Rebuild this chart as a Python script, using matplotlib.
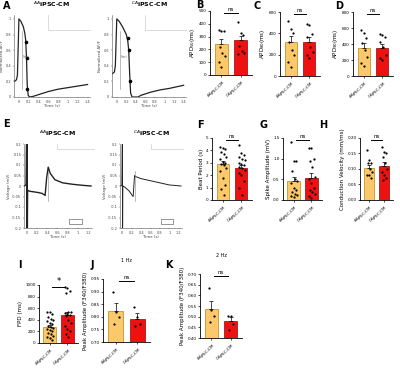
import numpy as np
import matplotlib
matplotlib.use("Agg")
import matplotlib.pyplot as plt

# ── data ──────────────────────────────────────────────────────────────────
groups = ["$^{AA}$iPSC-CM", "$^{CA}$iPSC-CM"]
orange = "#FBC96B"
red = "#EE1111"

# A: normalized calcium/AP traces
a1_t = [-0.09, -0.05, -0.03, -0.01, 0.0, 0.04, 0.09, 0.12, 0.14, 0.155, 0.17, 0.19, 0.22, 0.3, 0.4, 0.6, 0.8, 1.0, 1.2, 1.4]
a1_y = [0.20, 0.22, 0.28, 0.75, 1.0, 0.97, 0.90, 0.82, 0.72, 0.50, 0.15, 0.02, 0.0, 0.01, 0.03, 0.07, 0.10, 0.12, 0.14, 0.16]
a1_dots_t = [0.14, 0.155, 0.175]
a1_dots_y = [0.70, 0.50, 0.10]
a2_t = [-0.09, -0.05, -0.03, -0.01, 0.0, 0.05, 0.12, 0.2, 0.23, 0.25, 0.27, 0.29, 0.32, 0.45, 0.5, 0.7, 0.9, 1.1, 1.4]
a2_y = [0.30, 0.32, 0.40, 0.80, 1.0, 0.97, 0.90, 0.80, 0.72, 0.60, 0.30, 0.05, 0.0, 0.0, 0.02, 0.06, 0.09, 0.11, 0.15]
a2_dots_t = [0.225, 0.25, 0.275]
a2_dots_y = [0.75, 0.60, 0.20]

# E: field potential traces
e1_t = [-0.05, -0.01, 0.0, 0.005, 0.01, 0.015, 0.02, 0.06, 0.2, 0.3, 0.36, 0.39, 0.42, 0.46, 0.55, 0.7, 0.9, 1.1, 1.25]
e1_y = [0.0, 0.005, 0.2, -0.2, 0.2, -0.2, -0.02, -0.025, -0.03, -0.035, -0.045, 0.04, 0.09, 0.06, 0.03, 0.015, 0.008, 0.003, 0.0]
e2_t = [-0.05, -0.01, 0.0, 0.005, 0.01, 0.05, 0.15, 0.21, 0.23, 0.26, 0.28, 0.4, 0.6, 0.8, 1.0, 1.25]
e2_y = [0.0, 0.002, 0.2, -0.2, 0.0, -0.005, -0.025, -0.045, -0.05, 0.05, 0.045, 0.035, 0.025, 0.015, 0.005, 0.0]

# bar panels: means, SEMs and individual points per group
apd50_mean = [240, 270]
apd50_sem = [40, 38]
apd50_aa = [350, 345, 340, 215, 175, 150, 105, 60]
apd50_ca = [415, 325, 315, 230, 185, 175, 165]

apd80_mean = [316, 322]
apd80_sem = [55, 45]
apd80_aa = [519, 437, 400, 322, 244, 197, 134, 87]
apd80_ca = [487, 478, 394, 369, 275, 228, 197, 165]

apd90_mean = [354, 354]
apd90_sem = [60, 50]
apd90_aa = [575, 533, 470, 408, 325, 242, 158, 120]
apd90_ca = [525, 512, 483, 429, 367, 262, 221, 200]

beat_mean = [2.9, 2.6]
beat_sem = [0.27, 0.25]
beat_aa = [4.3, 4.2, 4.1, 3.9, 3.7, 3.5, 3.3, 3.1, 3.0, 2.9, 2.8, 2.6, 2.3, 1.8, 1.2, 0.9, 0.4]
beat_ca = [4.4, 3.8, 3.6, 3.5, 3.3, 3.2, 3.0, 2.9, 2.8, 2.7, 2.6, 2.4, 2.2, 2.0, 1.5, 1.0, 0.4]

spike_mean = [0.45, 0.53]
spike_sem = [0.10, 0.12]
spike_aa = [1.4, 0.95, 0.95, 0.7, 0.5, 0.45, 0.4, 0.3, 0.25, 0.2, 0.15, 0.12, 0.1, 0.08]
spike_ca = [1.25, 1.25, 1.0, 0.95, 0.8, 0.55, 0.5, 0.4, 0.3, 0.25, 0.2, 0.15, 0.1, 0.05]

cv_mean = [0.103, 0.11]
cv_sem = [0.010, 0.012]
cv_aa = [0.16, 0.13, 0.12, 0.12, 0.10, 0.09, 0.08, 0.08, 0.07]
cv_ca = [0.17, 0.155, 0.15, 0.14, 0.12, 0.10, 0.09, 0.08, 0.07, 0.065]

fpd_mean = [280, 483]
fpd_sem = [30, 60]
fpd_aa = [540, 530, 500, 450, 420, 400, 380, 350, 320, 300, 280, 260, 250, 230, 200, 180, 150, 120, 100, 80, 60]
fpd_ca = [960, 940, 900, 870, 540, 530, 520, 500, 480, 460, 400, 350, 300, 250, 200, 150, 100]

hz1_mean = [0.823, 0.79]
hz1_sem = [0.03, 0.024]
hz1_aa = [0.90, 0.82, 0.80, 0.77]
hz1_ca = [0.84, 0.80, 0.77, 0.765]

hz2_mean = [0.537, 0.479]
hz2_sem = [0.036, 0.018]
hz2_aa = [0.636, 0.53, 0.505, 0.476]
hz2_ca = [0.505, 0.505, 0.467, 0.438]

# ── figure ─────────────────────────────────────────────────────────────────
W, H = 400, 369
fig = plt.figure(figsize=(W / 100, H / 100), dpi=100)
plt.rcParams["font.family"] = "DejaVu Sans"


def box(x0, y0, x1, y1):
    return fig.add_axes([x0 / W, 1 - y1 / H, (x1 - x0) / W, (y1 - y0) / H])


def letter(x, y, s):
    fig.text(x / W, 1 - y / H, s, fontsize=7, fontweight="bold", va="top", ha="left")


def trace_axes(ax, xlim, ylim, xticks, yticks, ylabel, title):
    ax.set_xlim(*xlim)
    ax.set_ylim(*ylim)
    ax.set_xticks(xticks)
    ax.set_yticks(yticks)
    ax.set_xticklabels([f"{v:g}" for v in xticks])
    ax.set_yticklabels([f"{v:g}" for v in yticks])
    ax.tick_params(labelsize=2.5, length=1, width=0.3, pad=1, colors="#444444")
    for s in ["top", "right"]:
        ax.spines[s].set_visible(False)
    for s in ["left", "bottom"]:
        ax.spines[s].set_linewidth(0.4)
        ax.spines[s].set_color("#555555")
    ax.set_xlabel("Time (s)", fontsize=2.8, labelpad=0.5, color="#444444")
    ax.set_ylabel(ylabel, fontsize=2.8, labelpad=1, color="#444444")
    ax.set_title(title, fontsize=4.5, fontweight="bold", pad=6)


def bar_panel(ax, means, sems, aa, ca, ylim, yticks, ylabel, sig="ns", fmt="{:g}"):
    x = [0, 1]
    ax.bar(x, means, width=0.7, color=[orange, red], edgecolor=["#B8860B", "#A00000"], linewidth=0.5, zorder=1)
    for xi, m, s in zip(x, means, sems):
        ax.errorbar(xi, m, yerr=[[0], [s]], color="black", capsize=1.5, elinewidth=0.5, capthick=0.5, zorder=2)
    for xi, pts in zip(x, [aa, ca]):
        offs = [((i % 3) - 1) * 0.14 + ((i // 3) % 2) * 0.05 for i in range(len(pts))]
        ax.scatter(np.array(offs) + xi, pts, s=2.6, color="black", zorder=3, linewidths=0)
    ax.set_xlim(-0.6, 1.6)
    ax.set_ylim(*ylim)
    ax.set_yticks(yticks)
    ax.set_yticklabels([fmt.format(v) for v in yticks])
    ax.set_xticks(x)
    ax.set_xticklabels(groups, rotation=45, ha="right", rotation_mode="anchor")
    ax.tick_params(labelsize=3.0, length=1.5, width=0.5, pad=1)
    for s in ["top", "right"]:
        ax.spines[s].set_visible(False)
    for s in ["left", "bottom"]:
        ax.spines[s].set_linewidth(0.6)
    ax.set_ylabel(ylabel, fontsize=4, labelpad=1.5)
    top = ylim[1]
    yb = top - (top - ylim[0]) * 0.03
    ax.plot([0.15, 0.85], [yb, yb], color="black", lw=0.7, clip_on=False)
    ax.text(0.5, yb + (top - ylim[0]) * 0.02, sig, ha="center", va="bottom",
            fontsize=4 if sig == "ns" else 6)


# A
for (x0, x1, t, y, dt, dy) in [(14, 90, a1_t, a1_y, a1_dots_t, a1_dots_y),
                               (112, 186, a2_t, a2_y, a2_dots_t, a2_dots_y)]:
    ax = box(x0, 15, x1, 97)
    ax.plot(t, y, color="#222222", lw=0.9)
    ax.scatter(dt, dy, s=2.5, color="black", zorder=3)
    ax.plot([0.06, 0.06], [0.1, 0.85], color="#888888", lw=0.4)
    ax.text(0.08, 0.5, "Start", fontsize=2, color="#666666")
    ax.plot([0.6, 0.6, 1.45], [1.05, 0.86, 0.86], color="#cccccc", lw=0.5, clip_on=False)
    trace_axes(ax, (-0.1, 1.45), (0, 1.05), [0, 0.2, 0.4, 0.6, 0.8, 1, 1.2, 1.4],
               [0, 0.2, 0.4, 0.6, 0.8, 1], "Normalized ΔF/F", groups[0] if x0 < 100 else groups[1])
letter(3, 1, "A")

# E
for (x0, x1, t, y, vx, lw) in [(24, 92, e1_t, e1_y, 0.42, 1.0), (120, 182, e2_t, e2_y, 0.27, 0.7)]:
    ax = box(x0, 144, x1, 228)
    ax.plot(t, y, color="#222222", lw=lw)
    ax.plot([vx, vx], [0.07, -0.07], color="#888888", lw=0.4)
    ax.plot([0.6, 0.6, 1.3], [0.2, 0.175, 0.175], color="#cccccc", lw=0.5, clip_on=False)
    ax.add_patch(plt.Rectangle((0.82, -0.18), 0.25, 0.025, fill=False, lw=0.4, ec="#444444"))
    trace_axes(ax, (-0.05, 1.27), (-0.2, 0.2), [0, 0.2, 0.4, 0.6, 0.8, 1, 1.2],
               [-0.2, -0.15, -0.1, -0.05, 0, 0.05, 0.1, 0.15, 0.2], "Voltage (mV)",
               groups[0] if x0 < 100 else groups[1])
letter(3, 119, "E")

# B, C, D
ax = box(210, 11, 252, 75)
bar_panel(ax, apd50_mean, apd50_sem, apd50_aa, apd50_ca, (0, 500), [0, 100, 200, 300, 400, 500], "APD$_{50}$(ms)")
letter(196, 0, "B")
ax = box(280, 12, 320, 76)
bar_panel(ax, apd80_mean, apd80_sem, apd80_aa, apd80_ca, (0, 600), [0, 200, 400, 600], "APD$_{80}$(ms)")
letter(254, 1, "C")
ax = box(353, 12, 393, 76)
bar_panel(ax, apd90_mean, apd90_sem, apd90_aa, apd90_ca, (0, 800), [0, 200, 400, 600, 800], "APD$_{90}$(ms)")
letter(335, 1, "D")

# F, G, H
ax = box(212, 138, 252, 200)
bar_panel(ax, beat_mean, beat_sem, beat_aa, beat_ca, (0, 5), [0, 1, 2, 3, 4, 5], "Beat Period (s)")
letter(197, 120, "F")
ax = box(283, 138, 322, 200)
bar_panel(ax, spike_mean, spike_sem, spike_aa, spike_ca, (0, 1.5), [0, 0.5, 1.0, 1.5], "Spike Amplitude (mV)", fmt="{:.1f}")
letter(259, 120, "G")
ax = box(360, 138, 393, 200)
bar_panel(ax, cv_mean, cv_sem, cv_aa, cv_ca, (0, 0.2), [0, 0.05, 0.1, 0.15, 0.2], "Conduction Velocity (mm/ms)", fmt="{:.2f}")
letter(319, 120, "H")

# I, J, K
ax = box(39, 285, 78, 343)
bar_panel(ax, fpd_mean, fpd_sem, fpd_aa, fpd_ca, (0, 1000), [0, 200, 400, 600, 800, 1000], "FPD (ms)", sig="*")
letter(18, 260, "I")
ax = box(103, 279, 150, 342)
bar_panel(ax, hz1_mean, hz1_sem, hz1_aa, hz1_ca, (0.7, 0.95), [0.7, 0.75, 0.8, 0.85, 0.9, 0.95],
          "Peak Amplitude (F340/F380)", fmt="{:.2f}")
ax.set_title("1 Hz", fontsize=3.5, pad=12)
letter(91, 260, "J")
ax = box(200, 274, 242, 338)
bar_panel(ax, hz2_mean, hz2_sem, hz2_aa, hz2_ca, (0.4, 0.7), [0.4, 0.45, 0.5, 0.55, 0.6, 0.65, 0.7],
          "Peak Amplitude (F340/F380)", fmt="{:.2f}")
ax.set_title("2 Hz", fontsize=3.5, pad=12)
letter(165, 260, "K")

fig.savefig("out.png", dpi=100)
